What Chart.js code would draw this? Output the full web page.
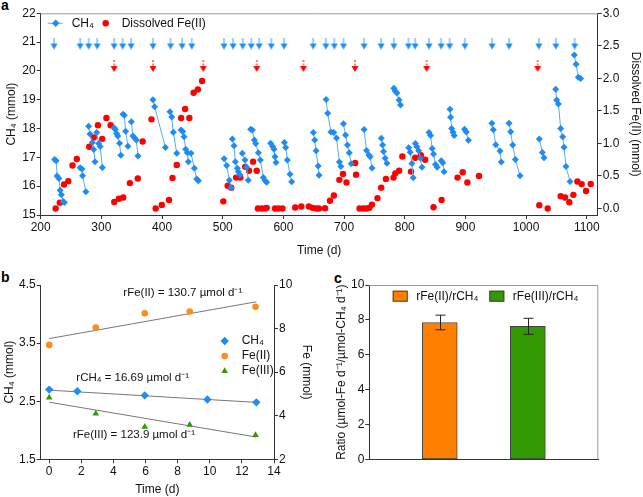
<!DOCTYPE html>
<html>
<head>
<meta charset="utf-8">
<script src="https://cdn.jsdelivr.net/npm/chart.js@4.4.1/dist/chart.umd.min.js"></script>
<style>
body { margin: 0; background: #fff; width: 643px; height: 497px; position: relative; overflow: hidden; font-family: "Liberation Sans", Arial, sans-serif; }
canvas { position: absolute; }
.lbl { position: absolute; font-weight: bold; font-size: 14px; line-height: 14px; color: #000; }
</style>
</head>
<body>
<div class="lbl" style="left:1px;top:-2px">a</div>
<div class="lbl" style="left:1px;top:270px">b</div>
<div class="lbl" style="left:334px;top:271px">c</div>
<canvas id="chartA" width="643" height="258" style="left:0;top:0"></canvas>
<canvas id="chartB" width="320" height="235" style="left:0;top:262px"></canvas>
<canvas id="chartC" width="321" height="235" style="left:322px;top:262px"></canvas>
<script>
// ---- panel a: long term incubation ----
// CH4 runs, null = break between runs
const ch4Time = [
  223, 225.5, 227, 230, 232, 234, 237, 239, null,
  265, 268, 269, 274.5, null,
  279, 281.3, 285, 287.3, 289.5, null,
  292.3, 295.6, 298, 301.6, null,
  321, 323, 325, 327, 330, 332, null,
  335.6, 337.8, 340, 343.8, null,
  349.3, 352, 354.8, 357.6, 360.3, null,
  385, 387.8, 405.6, null,
  413, 415.9, 418.6, 424.2, null,
  431.3, 434, 436.2, 439, 441.7, 443.3, null,
  447.7, 453.2, 457.1, 459.9, null,
  502.3, 506.5, 510.9, 513.7, null,
  515.9, 518.6, 520.8, 524.1, 525.7, 528.5, null,
  532.3, 536.7, 539.4, 542.2, null,
  546, 548.8, 552.1, 554.3, 558.7, 562, 566.9, 569.7, 572.4, null,
  579, 582.3, 584.5, 586.1, 587.8, null,
  601.6, 603.8, 606.5, 610.9, 613.7, null,
  649.3, 651.6, 653.8, 657.3, 658.8, null,
  670.3, 673, 678.3, 682.9, 687.5, 692.3, 694.7, null,
  699, 702.4, 705.5, 708.5, 711.8, null,
  733, 737, 741, 743, 746, null,
  761.3, 763.5, 765, 767.8, 770.6, null,
  782, 784.3, 787, 790.6, 793, null,
  806.5, 809, 811.7, 813.9, null,
  817.5, 820, 823, 825.8, 828.3, null,
  840, 842.5, 845.2, 847.4, 850.7, 853.5, null,
  860.3, 862.6, 864.8, null,
  874.6, 875.5, 877.3, 879.5, 881.5, null,
  898.5, 901.5, 905, null,
  943.6, 946, 950, 957, 959, null,
  971.8, 974.6, 977.9, 982.3, 990, null,
  1021.8, 1026.8, 1029.5, null,
  1048.8, 1050.4, 1053.2, 1057, 1060.3, 1062.5, 1065.8, 1072.4, null,
  1079.5, 1082.3, 1086.1, 1089.9
];
const ch4Value = [
  16.93, 16.88, 16.35, 16.27, 15.86, 15.7, 15.47, 15.43, null,
  16.64, 16.6, 16.36, 15.81, null,
  18.08, 17.81, 17.52, 17.27, 16.85, null,
  17.86, 17.48, 17.38, 16.65, null,
  18.03, 17.97, 17.83, 17.74, 17.49, 17.07, null,
  18.5, 18.46, 17.91, 17.39, null,
  18.24, 17.74, 17.67, 17.6, 17.05, null,
  19.0, 18.76, 17.34, null,
  18.58, 18.4, 17.87, 17.14, null,
  17.95, 17.9, 17.72, 17.28, 17.16, 16.85, null,
  17.14, 16.62, 16.25, 16.19, null,
  16.95, 16.72, 16.21, 15.95, null,
  17.64, 17.4, 16.85, 16.62, 16.5, 16.39, null,
  17.14, 16.91, 16.66, 16.21, null,
  17.98, 17.95, 17.6, 17.48, 17.16, 16.91, 16.3, 16.2, 16.14, null,
  17.49, 17.38, 17.28, 17.02, 16.82, null,
  17.52, 17.34, 16.91, 16.41, 16.15, null,
  17.86, 17.6, 17.23, 16.7, 16.38, null,
  19.01, 18.53, 17.88, 17.86, 17.67, 16.84, 16.68, null,
  18.17, 17.78, 17.43, 17.16, 16.78, null,
  17.97, 17.24, 17.08, 17.02, 16.63, null,
  17.66, 17.43, 17.2, 16.97, 16.8, null,
  19.4, 19.3, 19.23, 18.99, 18.82, null,
  17.33, 17.18, 16.79, 16.29, null,
  17.48, 17.37, 17.23, 16.97, 16.66, null,
  17.86, 17.76, 17.31, 17.12, 16.75, 16.66, null,
  16.88, 16.81, 16.5, null,
  18.67, 18.39, 18.0, 17.87, 17.76, null,
  17.98, 17.88, 17.59, null,
  18.18, 17.96, 17.44, 17.22, 16.84, null,
  18.18, 17.89, 17.43, 16.93, 16.36, null,
  17.64, 17.17, 16.99, null,
  19.36, 18.99, 18.85, 18.0, 17.72, 17.35, 16.68, 16.16, null,
  20.55, 20.23, 19.78, 19.74
];
const fe2Time = [
  224.6, 231.5, 238.4, 245.5, 252.4, 259.5, 280, 287.4, 294.3, 301.4, 308.3, 315.2,
  321.2, 328.8, 336, 347, 360, 368, 382.6, 389.5, 399.6, 411.5, 417.2, 424.2,
  431.5, 438, 445, 452, 459, 466, 501, 508.2, 514, 522, 529, 537, 543.4, 550, 556,
  558, 564.5, 570, 572.5, 586.3, 592, 598.4, 619.5, 629.5, 642, 648.3, 654.5, 658.6,
  668.6, 676.8, 683.2, 692.2, 698.3, 704, 718.3, 719.8, 725.5, 731.8, 737.3, 741.7,
  746, 755, 761.2, 769, 781.5, 784.5, 790.8, 796, 810.4, 817.2, 826.5, 833.7,
  847.4, 860.7, 887, 895.5, 903.2, 922.4, 1021.8, 1035.6, 1057, 1064.2, 1071.3,
  1077.9, 1084.5, 1091.6, 1098.8, 1106.5
];
const fe2Value = [
  0.0, 0.09, 0.37, 0.42, 0.66, 0.76, 0.95, 1.09, 1.28, 1.07, 1.39, 1.28,
  0.10, 0.15, 0.17, 0.39, 0.46, 1.03, 1.37, 0.0, 0.055, 0.13, 0.47, 0.67,
  1.39, 1.53, 1.39, 1.78, 1.83, 1.96, 0.11, 0.35, 0.32, 0.475, 0.475, 0.64, 0.58, 0.72, 0.58,
  0.0, 0.0, 0.0, 0.01, 0.0, 0.0, 0.0, 0.015, 0.03, 0.03, 0.01, 0.0, 0.0,
  0.005, 0.12, 0.2, 0.44, 0.53, 0.4, 0.7, 0.52, 0.0, 0.0, 0.0, 0.01,
  0.06, 0.16, 0.32, 0.455, 0.475, 0.54, 0.58, 0.8, 0.567, 0.78, 0.82, 0.75,
  0.02, 0.13, 0.475, 0.557, 0.40, 0.5, 0.05, 0.0, 0.19, 0.17, 0.096,
  0.21, 0.414, 0.375, 0.27, 0.378
];
// days when CH4 (blue) and Fe (red) were added
const ch4AddDays = [222, 265, 279, 293, 321, 335, 349, 385, 414, 433, 449, 502, 517, 533, 547, 560,
  580, 601, 649, 670, 684, 699, 733, 761, 782, 806, 817, 840, 860, 874, 899, 944, 972, 1021, 1049, 1080];
const feAddDays = [321, 385, 468, 556, 633, 718, 836, 1019];
const timeTicksA = [200, 300, 400, 500, 600, 700, 800, 900, 1000, 1100];
const ch4TicksA = [15, 16, 17, 18, 19, 20, 21, 22];
const feTicksA = [0, 0.5, 1, 1.5, 2, 2.5, 3];

// ---- panel b: one incubation cycle ----
const incTimeCh4 = [0, 1.75, 5.95, 9.85, 12.9];
const incCh4 = [2.70, 2.67, 2.60, 2.53, 2.48];
const incTimeFe = [0, 2.9, 5.95, 8.75, 12.85];
const incFe2 = [7.25, 8.05, 8.70, 8.78, 9.00];
const incFe3 = [4.83, 4.10, 3.49, 3.58, 3.11];
const fitTime = [0, 12.9];
const fitCh4 = [2.69, 2.48];
const fitFe2 = [7.54, 9.23];
const fitFe3 = [4.62, 3.02];
const rateText = ['rFe(II) = 130.7 µmol d⁻¹', 'rCH₄ = 16.69 µmol d⁻¹', 'rFe(III) = 123.9 µmol d⁻¹'];
const timeTicksB = [0, 2, 4, 6, 8, 10, 12, 14];
const ch4TicksB = [1.5, 2.5, 3.5, 4.5];
const feTicksB = [2, 4, 6, 8, 10];

// ---- panel c: stoichiometry ----
const ratioNames = ['rFe(II)/rCH₄', 'rFe(III)/rCH₄'];
const ratioValue = [7.85, 7.63];
const ratioErr = [0.42, 0.46];
const ratioTicks = [0, 2, 4, 6, 8, 10];

const FONT = '"Liberation Sans", Arial, sans-serif';
const AX = '#333';
const BLUE = '#1E8CF5';
const RED = '#FF0000';
const ORANGE = '#FF8C1A';
const BAR_ORANGE = '#FF8000';
const GREEN = '#339900';

Chart.defaults.font.family = FONT;
Chart.defaults.font.size = 12;
Chart.defaults.color = '#111';

function pts(xs, ys) {
  let last = null;
  return xs.map((t, i) => {
    if (ys[i] === null) return {x: last, y: null};
    last = t;
    return {x: t, y: ys[i]};
  });
}

function arrowImg(stem, head, dashed) {
  const c = document.createElement('canvas');
  c.width = 8; c.height = 12;
  const g = c.getContext('2d');
  g.strokeStyle = stem; g.lineWidth = 1.6;
  if (dashed) g.setLineDash([2, 1.5]);
  g.beginPath(); g.moveTo(4, 0); g.lineTo(4, 7); g.stroke();
  g.fillStyle = head;
  g.beginPath(); g.moveTo(0.5, 6); g.lineTo(7.5, 6); g.lineTo(4, 12); g.closePath(); g.fill();
  return c;
}

function fixedTicks(list) {
  return s => { s.ticks = list.map(v => ({value: v})); };
}

function axis(pos, min, max, tickList, opts) {
  const o = {
    type: 'linear', position: pos, min: min, max: max,
    afterBuildTicks: fixedTicks(tickList),
    grid: {display: true, drawOnChartArea: false, drawTicks: true, tickLength: 4, color: AX},
    border: {display: true, color: AX, width: 1},
    ticks: {padding: 1, color: '#111', font: {size: 12}, callback: v => String(v)},
    title: {display: false}
  };
  return Object.assign(o, opts || {});
}

// panel a
const legendA = {
  id: 'legendA',
  afterDraw(chart) {
    const {ctx, chartArea: ca} = chart;
    ctx.save();
    ctx.strokeStyle = '#999'; ctx.lineWidth = 1;
    ctx.beginPath(); ctx.moveTo(ca.left, ca.top + 0.5); ctx.lineTo(ca.right, ca.top + 0.5); ctx.stroke();
    const y = ca.top + 10;
    ctx.strokeStyle = '#5aaaf5';
    ctx.beginPath(); ctx.moveTo(ca.left + 7, y); ctx.lineTo(ca.left + 22, y); ctx.stroke();
    ctx.fillStyle = BLUE; ctx.strokeStyle = BLUE;
    Chart.helpers.drawPoint(ctx, {pointStyle: 'rectRot', radius: 3.8, rotation: 0}, ca.left + 15, y);
    ctx.fillStyle = RED; ctx.strokeStyle = RED;
    Chart.helpers.drawPoint(ctx, {pointStyle: 'circle', radius: 3.2, rotation: 0}, ca.left + 65, y);
    ctx.fillStyle = '#111';
    ctx.font = '12px ' + FONT;
    ctx.textBaseline = 'middle';
    ctx.fillText('CH₄', ca.left + 31, y);
    ctx.fillText('Dissolved Fe(II)', ca.left + 81, y);
    ctx.restore();
  }
};

new Chart(document.getElementById('chartA'), {
  type: 'line',
  data: {
    datasets: [
      {
        data: pts(ch4Time, ch4Value), yAxisID: 'y', spanGaps: false,
        borderColor: '#5aaaf5', borderWidth: 1,
        pointStyle: 'rectRot', pointRadius: 3.5, pointBackgroundColor: BLUE, pointBorderColor: BLUE, pointBorderWidth: 0
      },
      {
        data: pts(fe2Time, fe2Value), yAxisID: 'y2', showLine: false,
        pointStyle: 'circle', pointRadius: 3.2, pointBackgroundColor: RED, pointBorderColor: RED, pointBorderWidth: 0
      },
      {
        data: ch4AddDays.map(d => ({x: d, y: 20.95})), yAxisID: 'y', showLine: false,
        pointStyle: arrowImg('#86c0f5', BLUE, false), pointRadius: 5
      },
      {
        data: feAddDays.map(d => ({x: d, y: 20.17})), yAxisID: 'y', showLine: false,
        pointStyle: arrowImg('#ff5a5a', RED, true), pointRadius: 5
      }
    ]
  },
  options: {
    responsive: false, animation: false,
    layout: {padding: {top: 13.3, left: 0, right: 0, bottom: 0}},
    plugins: {legend: {display: false}, tooltip: {enabled: false}},
    scales: {
      x: axis('bottom', 200, 1118, timeTicksA, {
        afterFit: s => { s.height = 43; },
        title: {display: true, text: 'Time (d)', color: '#111', font: {size: 12}, padding: {top: 0, bottom: 0}}
      }),
      y: axis('left', 15, 22, ch4TicksA, {
        afterFit: s => { s.width = 40.7; },
        title: {display: true, text: 'CH₄ (mmol)', color: '#111', font: {size: 12}, padding: {top: 4, bottom: 0}}
      }),
      y2: axis('right', -0.1, 3.0, feTicksA, {
        afterFit: s => { s.width = 45.3; },
        ticks: {padding: 1, color: '#111', font: {size: 12}, callback: v => v.toFixed(1)},
        title: {display: true, text: 'Dissolved Fe(II) (mmol)', color: '#111', font: {size: 12}, padding: {top: 0, bottom: 0}}
      })
    }
  },
  plugins: [legendA]
});

// panel b
const notesB = {
  id: 'notesB',
  afterDraw(chart) {
    const {ctx, chartArea: ca, scales} = chart;
    ctx.save();
    ctx.font = '11.5px ' + FONT;
    ctx.fillStyle = '#111';
    ctx.textBaseline = 'middle';
    ctx.textAlign = 'center';
    ctx.fillText(rateText[0], scales.x.getPixelForValue(8.32), scales.y2.getPixelForValue(9.63));
    ctx.fillText(rateText[1], scales.x.getPixelForValue(5.2), scales.y.getPixelForValue(2.9));
    ctx.fillText(rateText[2], scales.x.getPixelForValue(5.28), scales.y2.getPixelForValue(3.12));
    // legend
    const lx = ca.left + 184;
    const rows = [
      ['CH₄', BLUE, 'rectRot', 4.2],
      ['Fe(II)', ORANGE, 'circle', 3.3],
      ['Fe(III)', GREEN, 'triangle', 3.8]
    ];
    ctx.textAlign = 'left';
    ctx.font = '12px ' + FONT;
    rows.forEach((r, i) => {
      const y = ca.top + 56 + i * 15;
      ctx.fillStyle = r[1]; ctx.strokeStyle = r[1];
      Chart.helpers.drawPoint(ctx, {pointStyle: r[2], radius: r[3], rotation: 0}, lx, y);
      ctx.fillStyle = '#111';
      ctx.fillText(r[0], lx + 17, y);
    });
    ctx.restore();
  }
};

new Chart(document.getElementById('chartB'), {
  type: 'line',
  data: {
    datasets: [
      {
        data: pts(incTimeCh4, incCh4), yAxisID: 'y', showLine: false,
        pointStyle: 'rectRot', pointRadius: 4.2, pointBackgroundColor: BLUE, pointBorderColor: BLUE, pointBorderWidth: 0
      },
      {
        data: pts(incTimeFe, incFe2), yAxisID: 'y2', showLine: false,
        pointStyle: 'circle', pointRadius: 3.3, pointBackgroundColor: ORANGE, pointBorderColor: ORANGE, pointBorderWidth: 0
      },
      {
        data: pts(incTimeFe, incFe3), yAxisID: 'y2', showLine: false,
        pointStyle: 'triangle', pointRadius: 3.8, pointBackgroundColor: GREEN, pointBorderColor: GREEN, pointBorderWidth: 0
      },
      {data: pts(fitTime, fitCh4), yAxisID: 'y', borderColor: '#777', borderWidth: 1, pointRadius: 0},
      {data: pts(fitTime, fitFe2), yAxisID: 'y2', borderColor: '#777', borderWidth: 1, pointRadius: 0},
      {data: pts(fitTime, fitFe3), yAxisID: 'y2', borderColor: '#777', borderWidth: 1, pointRadius: 0}
    ]
  },
  options: {
    responsive: false, animation: false,
    layout: {padding: {top: 23, left: 0, right: 0, bottom: 0}},
    plugins: {legend: {display: false}, tooltip: {enabled: false}},
    scales: {
      x: axis('bottom', -0.53, 14, timeTicksB, {
        afterFit: s => { s.height = 37.7; },
        title: {display: true, text: 'Time (d)', color: '#111', font: {size: 12}, padding: {top: 0, bottom: 0}}
      }),
      y: axis('left', 1.5, 4.5, ch4TicksB, {
        afterFit: s => { s.width = 40.7; },
        ticks: {padding: 1, color: '#111', font: {size: 12}, callback: v => v.toFixed(1)},
        title: {display: true, text: 'CH₄ (mmol)', color: '#111', font: {size: 12}, padding: {top: 2, bottom: 0}}
      }),
      y2: axis('right', 2, 10, feTicksB, {
        afterFit: s => { s.width = 46; },
        title: {display: true, text: 'Fe (mmol)', color: '#111', font: {size: 12}, padding: {top: 6, bottom: 0}}
      })
    }
  },
  plugins: [notesB]
});

// panel c
const extrasC = {
  id: 'extrasC',
  afterDatasetsDraw(chart) {
    const {ctx, chartArea: ca, scales: {x, y}} = chart;
    ctx.save();
    ctx.strokeStyle = '#999'; ctx.lineWidth = 1;
    ctx.beginPath();
    ctx.moveTo(ca.left, ca.top + 0.5); ctx.lineTo(ca.right - 0.5, ca.top + 0.5); ctx.lineTo(ca.right - 0.5, ca.bottom);
    ctx.stroke();
    ctx.strokeStyle = '#222';
    ratioValue.forEach((v, i) => {
      const px = Math.round(x.getPixelForValue(i + 1)) + 0.5;
      const hi = y.getPixelForValue(v + ratioErr[i]);
      const lo = y.getPixelForValue(v - ratioErr[i]);
      ctx.beginPath();
      ctx.moveTo(px, hi); ctx.lineTo(px, lo);
      ctx.moveTo(px - 5, hi); ctx.lineTo(px + 5, hi);
      ctx.moveTo(px - 5, lo); ctx.lineTo(px + 5, lo);
      ctx.stroke();
    });
    // legend
    const cols = [BAR_ORANGE, GREEN];
    const offs = [23.4, 120];
    ctx.font = '12px ' + FONT;
    ctx.textBaseline = 'middle';
    ratioNames.forEach((n, i) => {
      const bx = ca.left + offs[i];
      const by = ca.top + 5.7;
      ctx.fillStyle = cols[i];
      ctx.fillRect(bx, by, 15, 11);
      ctx.strokeStyle = '#444';
      ctx.strokeRect(bx + 0.5, by + 0.5, 14, 10);
      ctx.fillStyle = '#111';
      ctx.fillText(n, bx + 23.5, by + 5.5);
    });
    ctx.restore();
  }
};

new Chart(document.getElementById('chartC'), {
  type: 'bar',
  data: {
    datasets: [{
      data: ratioValue.map((v, i) => ({x: i + 1, y: v})),
      backgroundColor: [BAR_ORANGE, GREEN],
      borderColor: '#444', borderWidth: 1, borderSkipped: false,
      barThickness: 35
    }]
  },
  options: {
    responsive: false, animation: false,
    layout: {padding: {top: 23, left: 0, right: 44.7, bottom: 0}},
    plugins: {legend: {display: false}, tooltip: {enabled: false}},
    scales: {
      x: {
        type: 'linear', min: 0.2, max: 2.8, offset: false,
        afterFit: s => { s.height = 37.7; },
        grid: {display: false},
        border: {display: true, color: AX},
        ticks: {display: false}
      },
      y: axis('left', 0, 10, ratioTicks, {
        afterFit: s => { s.width = 47.3; },
        title: {display: true, text: 'Ratio (µmol-Fe d⁻¹/µmol-CH₄ d⁻¹)', color: '#111', font: {size: 12}, padding: {top: 12, bottom: 0}}
      })
    }
  },
  plugins: [extrasC]
});
</script>
</body>
</html>
